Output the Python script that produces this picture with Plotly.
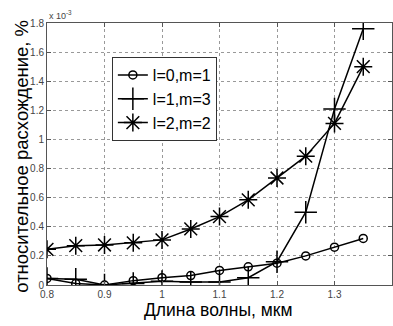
import plotly.graph_objects as go

wavelength = [0.8, 0.85, 0.9, 0.95, 1.0, 1.05, 1.1, 1.15, 1.2, 1.25, 1.3, 1.35]
s_l0m1 = [0.045, 0.01, 0.0, 0.03, 0.05, 0.065, 0.1, 0.125, 0.15, 0.2, 0.26, 0.32]
s_l1m3 = [0.045, 0.04, 0.0, 0.01, 0.025, 0.02, 0.02, 0.05, 0.16, 0.5, 1.21, 1.76]
s_l2m2 = [0.245, 0.27, 0.275, 0.29, 0.31, 0.385, 0.47, 0.585, 0.735, 0.885, 1.11, 1.5]
names = ["l=0,m=1", "l=1,m=3", "l=2,m=2"]
x_ticks = [0.8, 0.9, 1.0, 1.1, 1.2, 1.3]
x_tick_text = ["0.8", "0.9", "1", "1.1", "1.2", "1.3"]
y_ticks = [0, 0.2, 0.4, 0.6, 0.8, 1.0, 1.2, 1.4, 1.6, 1.8]
y_tick_text = ["0", "0.2", "0.4", "0.6", "0.8", "1", "1.2", "1.4", "1.6", "1.8"]
x_title = "Длина волны, мкм"
y_title = "относительное расхождение, %"

FONT = "Liberation Sans, Arial"

fig = go.Figure()
specs = [(s_l0m1, "circle-open", 8), (s_l1m3, "cross-thin-open", 16), (s_l2m2, "asterisk-open", 15)]
for (ys, sym, sz), nm in zip(specs, names):
    fig.add_trace(go.Scatter(
        x=wavelength, y=ys, name=nm, mode="lines+markers",
        line=dict(color="black", width=1.5),
        marker=dict(symbol=sym, size=sz, color="black", line=dict(color="black", width=1.5)),
    ))

axis_common = dict(
    showline=True, linecolor="#555", linewidth=1, mirror="ticks",
    ticks="inside", ticklen=4, tickcolor="#555",
    showgrid=True, gridcolor="#999", griddash="dot", gridwidth=1,
    zeroline=False, tickfont=dict(family=FONT, size=10, color="#444"),
)
fig.update_xaxes(range=[0.8, 1.4], tickvals=x_ticks, ticktext=x_tick_text, **axis_common)
fig.update_yaxes(range=[0, 1.8], tickvals=y_ticks, ticktext=y_tick_text, **axis_common)

fig.add_annotation(text="x 10<sup>-3</sup>", xref="paper", yref="paper", x=0.0, y=1.0,
                   xanchor="left", yanchor="bottom", showarrow=False,
                   font=dict(family=FONT, size=9, color="#444"))
fig.add_annotation(text=x_title, xref="paper", yref="paper", x=0.496, y=-0.095,
                   xanchor="center", yanchor="middle", showarrow=False,
                   font=dict(family=FONT, size=17.5, color="black"))
fig.add_annotation(text=y_title, xref="paper", yref="paper", x=-0.075, y=0.49,
                   xanchor="center", yanchor="middle", showarrow=False, textangle=-90,
                   font=dict(family=FONT, size=18.5, color="black"))

fig.update_layout(
    width=393, height=326,
    margin=dict(l=47, r=1, t=23, b=41),
    paper_bgcolor="white", plot_bgcolor="white",
    showlegend=True,
    legend=dict(x=0.188, y=0.87, xanchor="left", yanchor="top",
                bgcolor="white", bordercolor="#333", borderwidth=1,
                font=dict(family=FONT, size=16, color="black"),
                tracegroupgap=0, itemwidth=30),
)
fig.write_html("out.html")
